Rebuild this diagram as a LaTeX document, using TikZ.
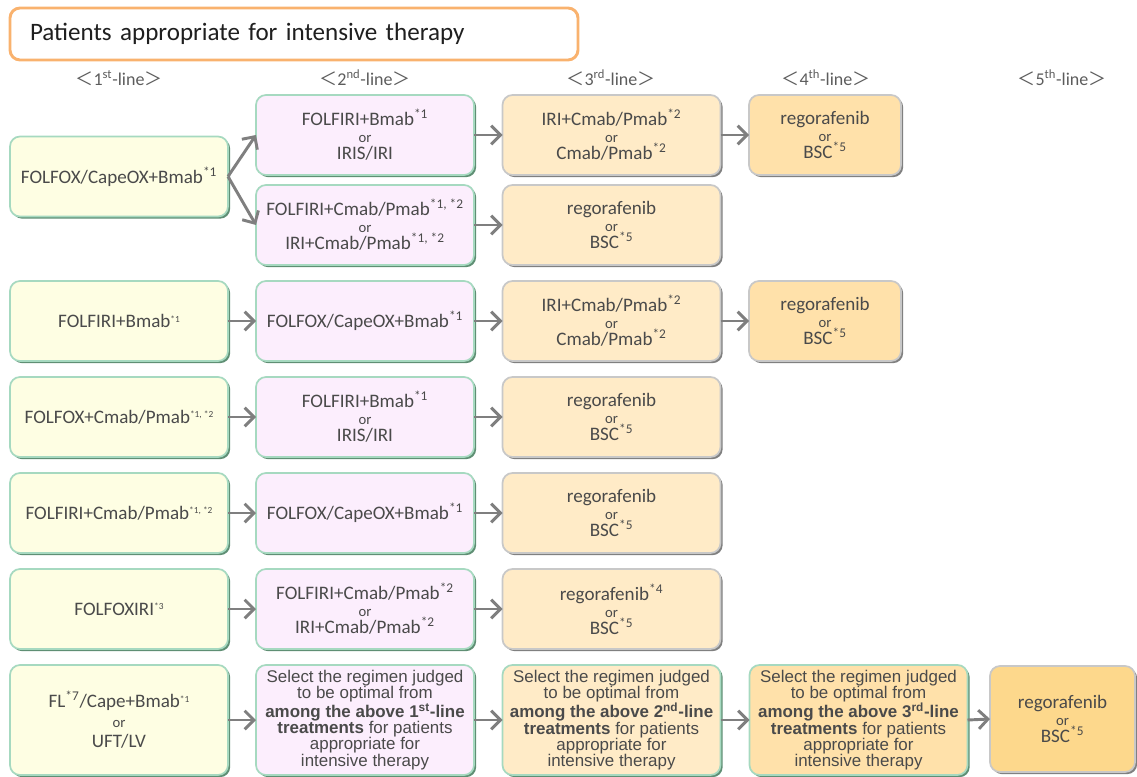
\documentclass[tikz,border=0pt]{standalone}
\usepackage{fontspec}
\setmainfont{Carlito}
\newfontfamily\arialfont{Liberation Sans}
\newfontfamily\cjk{Noto Sans CJK JP}
\usetikzlibrary{arrows.meta,shadows}

\definecolor{firstfill}{HTML}{FEFEE3}
\definecolor{secondfill}{HTML}{FCEEFD}
\definecolor{thirdfill}{HTML}{FFEBC7}
\definecolor{fourthfill}{HTML}{FFE1AA}
\definecolor{fifthfill}{HTML}{FDD88C}
\definecolor{greenedge}{HTML}{A6D9C0}
\definecolor{greenshade}{HTML}{5F8F74}
\definecolor{grayedge}{HTML}{C8C8C8}
\definecolor{grayshade}{HTML}{808080}
\definecolor{titleedge}{HTML}{F9B26E}
\definecolor{textgray}{HTML}{4A4A4A}
\definecolor{arrowgray}{HTML}{7F7F7F}

\newcommand{\orsmall}{{\fontsize{11}{11}\selectfont or}}
\newcommand{\tinysup}[1]{\raisebox{0.6ex}{\fontsize{7}{7}\selectfont #1}}
\newcommand{\lineheader}[2]{{\cjk ＜}#1\textsuperscript{#2}-line{\cjk ＞}}

\begin{document}
\begin{tikzpicture}[x=0.75pt,y=-0.75pt,
    box/.style={rounded corners=7.5pt,line width=1.3pt,align=center,
      text=textgray,inner sep=2pt,outer sep=0pt,
      minimum width=163.5pt,minimum height=60pt,
      font=\fontsize{14.3}{12.8}\selectfont},
    greenbox/.style={box,draw=greenedge,
      drop shadow={shadow xshift=1.6pt,shadow yshift=-1.6pt,fill=greenshade,opacity=1}},
    graybox/.style={box,draw=grayedge,
      drop shadow={shadow xshift=1.6pt,shadow yshift=-1.6pt,fill=grayshade,opacity=1}},
    firstbox/.style={greenbox,fill=firstfill},
    secondbox/.style={greenbox,fill=secondfill},
    thirdbox/.style={graybox,fill=thirdfill},
    fourthbox/.style={graybox,fill=fourthfill,minimum width=114pt},
    fifthbox/.style={graybox,fill=fifthfill,minimum width=108.75pt},
    selectbox/.style={greenbox,minimum height=82.5pt,
      font=\arialfont\fontsize{12.7}{12.2}\selectfont},
    flow/.style={draw=arrowgray,line width=2.2pt,
      -{Straight Barb[length=7pt,width=14pt]}}]
  \useasboundingbox (0,0) rectangle (1137,777);

  % title and column heads
  \node[draw=titleedge,line width=2.2pt,rounded corners=7.5pt,fill=white,
    minimum width=426pt,minimum height=39pt,text width=396pt,align=left,
    inner xsep=15pt,text=black!88,font=\fontsize{18.8}{20}\selectfont]
    (title) at (294,34) {Patients appropriate for intensive therapy};
  \begin{scope}[every node/.style={text=textgray!90,font=\fontsize{13.5}{14}\selectfont}]
    \node (h1) at (119,78) {\lineheader{1}{st}};
    \node (h2) at (365,78) {\lineheader{2}{nd}};
    \node (h3) at (611,78) {\lineheader{3}{rd}};
    \node (h4) at (826,78) {\lineheader{4}{th}};
    \node (h5) at (1062,78) {\lineheader{5}{th}};
  \end{scope}

  % 1st-line
  \node[firstbox] (f1) at (119,176.5) {FOLFOX/CapeOX+Bmab\textsuperscript{*1}};
  \node[firstbox] (f2) at (119,321) {FOLFIRI+Bmab\tinysup{*1}};
  \node[firstbox] (f3) at (119,417) {FOLFOX+Cmab/Pmab\tinysup{*1, *2}};
  \node[firstbox] (f4) at (119,513) {FOLFIRI+Cmab/Pmab\tinysup{*1, *2}};
  \node[firstbox] (f5) at (119,609) {FOLFOXIRI\tinysup{*3}};
  \node[firstbox,minimum height=82.5pt,font=\fontsize{14.3}{15}\selectfont] (f6) at (119,720)
    {FL\textsuperscript{*7}/Cape+Bmab\tinysup{*1}\\\orsmall\\UFT/LV};

  % 2nd-line
  \node[secondbox] (s1a) at (365,135) {FOLFIRI+Bmab\textsuperscript{*1}\\\orsmall\\IRIS/IRI};
  \node[secondbox] (s1b) at (365,225)
    {FOLFIRI+Cmab/Pmab\textsuperscript{*1, *2}\\\orsmall\\IRI+Cmab/Pmab\textsuperscript{*1, *2}};
  \node[secondbox] (s2) at (365,321) {FOLFOX/CapeOX+Bmab\textsuperscript{*1}};
  \node[secondbox] (s3) at (365,417) {FOLFIRI+Bmab\textsuperscript{*1}\\\orsmall\\IRIS/IRI};
  \node[secondbox] (s4) at (365,513) {FOLFOX/CapeOX+Bmab\textsuperscript{*1}};
  \node[secondbox] (s5) at (365,609)
    {FOLFIRI+Cmab/Pmab\textsuperscript{*2}\\\orsmall\\IRI+Cmab/Pmab\textsuperscript{*2}};
  \node[selectbox,fill=secondfill] (s6) at (365,720)
    {Select the regimen judged\\to be optimal from\\
     \textbf{among the above 1\textsuperscript{st}-line}\\
     \textbf{treatments} for patients\\appropriate for\\intensive therapy};

  % 3rd-line
  \node[thirdbox] (t1a) at (611.5,135)
    {IRI+Cmab/Pmab\textsuperscript{*2}\\\orsmall\\Cmab/Pmab\textsuperscript{*2}};
  \node[thirdbox] (t1b) at (611.5,225) {regorafenib\\\orsmall\\BSC\textsuperscript{*5}};
  \node[thirdbox] (t2) at (611.5,321)
    {IRI+Cmab/Pmab\textsuperscript{*2}\\\orsmall\\Cmab/Pmab\textsuperscript{*2}};
  \node[thirdbox] (t3) at (611.5,417) {regorafenib\\\orsmall\\BSC\textsuperscript{*5}};
  \node[thirdbox] (t4) at (611.5,513) {regorafenib\\\orsmall\\BSC\textsuperscript{*5}};
  \node[thirdbox] (t5) at (611.5,609)
    {regorafenib\textsuperscript{*4}\\\orsmall\\BSC\textsuperscript{*5}};
  \node[selectbox,fill=thirdfill] (t6) at (611.5,720)
    {Select the regimen judged\\to be optimal from\\
     \textbf{among the above 2\textsuperscript{nd}-line}\\
     \textbf{treatments} for patients\\appropriate for\\intensive therapy};

  % 4th-line
  \node[fourthbox] (q1a) at (825,135) {regorafenib\\\orsmall\\BSC\textsuperscript{*5}};
  \node[fourthbox] (q2) at (825,321) {regorafenib\\\orsmall\\BSC\textsuperscript{*5}};
  \node[selectbox,fill=fourthfill] (q6) at (858.5,720)
    {Select the regimen judged\\to be optimal from\\
     \textbf{among the above 3\textsuperscript{rd}-line}\\
     \textbf{treatments} for patients\\appropriate for\\intensive therapy};

  % 5th-line
  \node[fifthbox,minimum height=79.5pt] (v6) at (1062.5,719)
    {regorafenib\\\orsmall\\BSC\textsuperscript{*5}};

  % arrows
  \begin{scope}[every path/.style={flow}]
    \draw (f1.east) -- (s1a.west);
    \draw (f1.east) -- (s1b.west);
    \draw (s1a.east) -- (t1a.west);
    \draw (t1a.east) -- (q1a.west);
    \draw (s1b.east) -- (t1b.west);
    \draw (f2.east) -- (s2.west);
    \draw (s2.east) -- (t2.west);
    \draw (t2.east) -- (q2.west);
    \draw (f3.east) -- (s3.west);
    \draw (s3.east) -- (t3.west);
    \draw (f4.east) -- (s4.west);
    \draw (s4.east) -- (t4.west);
    \draw (f5.east) -- (s5.west);
    \draw (s5.east) -- (t5.west);
    \draw (f6.east) -- (s6.west);
    \draw (s6.east) -- (t6.west);
    \draw (t6.east) -- (q6.west);
    \draw (q6.east) -- (v6.west);
  \end{scope}
\end{tikzpicture}
\end{document}
